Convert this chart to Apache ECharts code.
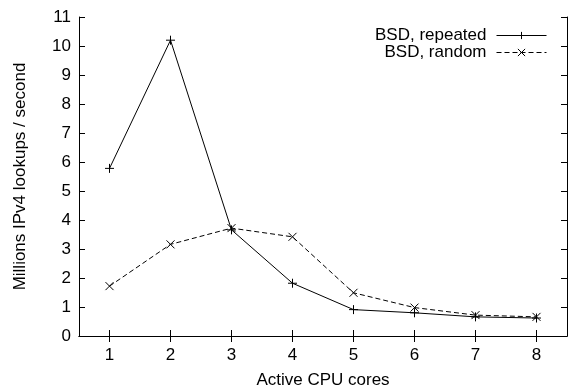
<!DOCTYPE html>
<html lang="en">
<head>
    <meta charset="UTF-8">
    <title>lookups</title>
    <script src="https://cdn.jsdelivr.net/npm/echarts@6/dist/echarts.min.js"></script>
    <style>
        html, body { margin: 0; padding: 0; background: #fff; }
        #main { width: 569px; height: 388px; }
    </style>
</head>
<body>
<div id="main"></div>
<script type="text/javascript">
    // data
    var cores = ['1', '2', '3', '4', '5', '6', '7', '8'];
    var repeated = [5.78, 10.2, 3.66, 1.82, 0.91, 0.8, 0.66, 0.62];
    var random = [1.72, 3.16, 3.72, 3.42, 1.49, 0.98, 0.72, 0.66];
    var yTicks = [0, 1, 2, 3, 4, 5, 6, 7, 8, 9, 10, 11];

    var font = 'Liberation Sans';
    var fs = 17;
    var plus = 'path://M0,5L10,5M5,0L5,10';
    var cross = 'path://M0,0L10,10M10,0L0,10';

    var myChart = echarts.init(document.getElementById('main'));

    var tick = {show: true, inside: true, length: 6, lineStyle: {color: '#000', width: 1}};
    var line = {show: true, lineStyle: {color: '#000', width: 1}};
    var legendBase = {
        right: 22,
        align: 'right',
        padding: 0,
        itemWidth: 50, itemHeight: 9, itemGap: 10,
        lineStyle: {width: 1},
        itemStyle: {borderWidth: 1},
        textStyle: {fontFamily: font, fontSize: fs, color: '#000', padding: [0, 5, 0, 0]}
    };

    option = {
        backgroundColor: '#fff',
        animation: false,
        textStyle: {fontFamily: font},
        grid: {left: 79, right: 2, top: 17, bottom: 52, containLabel: false, outerBoundsMode: 'none'},
        legend: [
            Object.assign({data: ['BSD, repeated'], top: 27}, legendBase),
            Object.assign({data: ['BSD, random'], top: 44}, legendBase)
        ],
        xAxis: [{
            type: 'category',
            data: cores,
            boundaryGap: true,
            name: 'Active CPU cores',
            nameLocation: 'middle',
            nameGap: 36,
            nameTextStyle: {fontFamily: font, fontSize: fs, color: '#000'},
            axisLine: line,
            axisTick: Object.assign({alignWithLabel: true}, tick),
            axisLabel: {fontFamily: font, fontSize: fs, color: '#000', margin: 11},
            splitLine: {show: false}
        }, {
            type: 'category',
            data: cores,
            position: 'top',
            boundaryGap: true,
            axisLine: line,
            axisTick: Object.assign({alignWithLabel: true}, tick),
            axisLabel: {show: false},
            splitLine: {show: false}
        }],
        yAxis: [{
            type: 'value',
            min: yTicks[0],
            max: yTicks[yTicks.length - 1],
            interval: 1,
            name: 'Millions IPv4 lookups / second',
            nameLocation: 'middle',
            nameGap: 50,
            nameTextStyle: {fontFamily: font, fontSize: fs, color: '#000'},
            axisLine: line,
            axisTick: tick,
            axisLabel: {fontFamily: font, fontSize: fs, color: '#000', margin: 8},
            splitLine: {show: false}
        }, {
            type: 'value',
            position: 'right',
            min: yTicks[0],
            max: yTicks[yTicks.length - 1],
            interval: 1,
            axisLine: line,
            axisTick: tick,
            axisLabel: {show: false},
            splitLine: {show: false}
        }],
        series: [{
            name: 'BSD, repeated',
            type: 'line',
            data: repeated,
            symbol: plus,
            symbolSize: 9,
            lineStyle: {color: '#000', width: 1, type: 'solid'},
            itemStyle: {color: '#000', borderColor: '#000', borderWidth: 1}
        }, {
            name: 'BSD, random',
            type: 'line',
            data: random,
            symbol: cross,
            symbolSize: 8,
            lineStyle: {color: '#000', width: 1, type: [5, 3]},
            itemStyle: {color: '#000', borderColor: '#000', borderWidth: 1}
        }]
    };

    myChart.setOption(option);
</script>
</body>
</html>
